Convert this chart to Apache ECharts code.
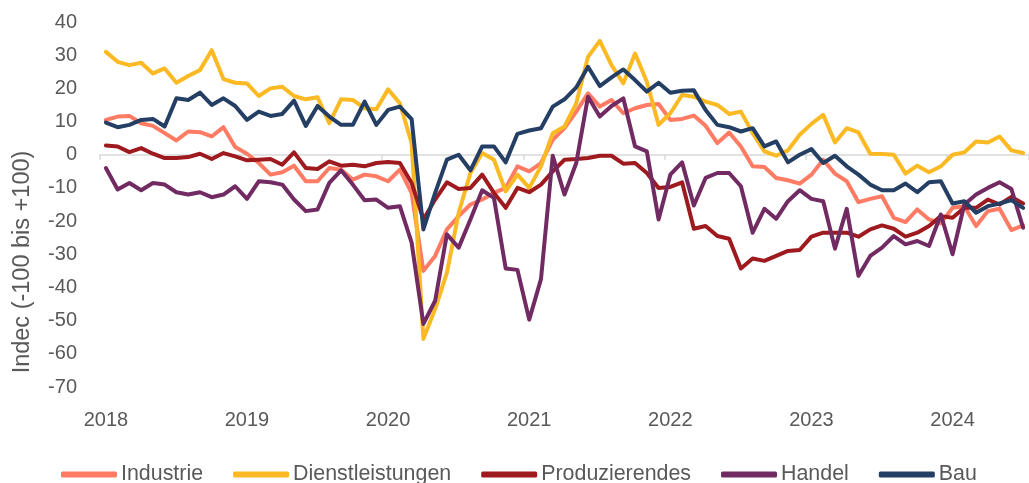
<!DOCTYPE html>
<html>
<head>
<meta charset="utf-8">
<script src="https://cdn.jsdelivr.net/npm/echarts@6/dist/echarts.min.js"></script>
<style>
  html, body { margin: 0; padding: 0; background: #ffffff; }
  #chart { width: 1029px; height: 483px; }
</style>
</head>
<body>
<div id="chart"></div>
<script>
// Monatswerte Jan 2018 - Jul 2024
const years = ['2018', '2019', '2020', '2021', '2022', '2023', '2024'];
const months = [];
years.forEach(function (y) {
  for (let m = 1; m <= 12; m++) {
    if (y === '2024' && m > 7) break;
    months.push(y + '-' + (m < 10 ? '0' + m : m));
  }
});

const industrie = [
  10.5, 11.5, 11.7, 9.5, 8.7, 6.5, 4.3, 7, 6.8, 5.5, 8.3, 2.3,
  0.3, -2.5, -6, -5.3, -3.3, -8, -8, -4, -4.5, -7.5, -6, -6.5,
  -8, -4.5, -11.5, -35, -30.5, -22.5, -18.5, -15, -13.5, -11.5, -10, -3.5,
  -5, -2.5, 4.5, 8, 13, 18.5, 14.5, 16.5, 12.5, 14, 15, 15.3,
  10.5, 10.8, 11.8, 8.7, 3.5, 6.7, 2.5, -3.5, -3.7, -7, -7.7, -8.7,
  -6, -1.5, -5.7, -8, -14.3, -13.3, -12.5, -19, -20.3, -16.5, -19.5, -20.7,
  -16, -15.5, -21.5, -17, -16.3, -22.7, -21.3
];
const dienstleistungen = [
  31, 28, 27, 27.7, 24.5, 26, 21.7, 23.7, 25.5, 31.5, 22.8, 21.7,
  21.5, 17.7, 20, 20.5, 17.7, 16.7, 17.3, 9.5, 16.7, 16.5, 14, 13.7,
  19.7, 15.5, 3.5, -55.5, -46.5, -35.5, -17.5, -5.5, 0.5, -1.5, -11, -6,
  -10, -3.5, 6.5, 8.5, 15.5, 29.5, 34.3, 27, 21.5, 30.5, 22, 9,
  12.5, 18, 17.5, 16, 15, 12.3, 13, 6.5, 1, -0.3, 1.3, 6,
  9.3, 12, 3.7, 8, 6.7, 0.3, 0.2, 0, -5.7, -3.3, -5.3, -3.5,
  0, 0.7, 4, 3.7, 5.5, 1.3, 0.5
];
const produzierendes = [
  2.8, 2.5, 0.8, 2, 0.3, -1, -1, -0.7, 0.3, -1.3, 0.5, -0.5,
  -1.7, -1.5, -1.3, -3, 0.7, -4, -4.3, -2, -3.3, -3, -3.5, -2.5,
  -2.2, -2.5, -8.5, -19.5, -13.5, -8.3, -10.3, -10, -6, -11.5, -16, -10,
  -11.3, -9, -5, -1.5, -1.3, -1, -0.3, -0.3, -2.7, -2.5, -5.5, -10,
  -9.7, -8.3, -22.3, -21.5, -24.5, -25.3, -34.3, -31.3, -32, -30.5, -29, -28.7,
  -24.7, -23.5, -23.5, -23.5, -24.7, -22.5, -21.3, -22.3, -24.7, -23.5, -21.5, -18.5,
  -19, -16, -16, -13.5, -15, -12.7, -14.7
];
const handel = [
  -4, -10.5, -8.5, -10.7, -8.5, -9, -11.3, -12, -11.3, -12.8, -12, -9.5,
  -13.3, -8, -8.3, -9, -13.5, -17, -16.5, -8.5, -4.7, -9, -13.7, -13.5,
  -16, -15.5, -26.5, -51, -44, -24, -28, -19.5, -10.7, -13, -34.3, -34.7,
  -49.7, -37.5, -0.3, -12, -2.5, 17.5, 11.5, 14.7, 17, 2.5, 1, -19.5,
  -6, -2.3, -15.3, -7, -5.5, -5.5, -9.5, -23.5, -16.3, -19.3, -14, -10.7,
  -13.3, -14, -28.3, -16.3, -36.5, -30.5, -28, -24.5, -27, -26, -27.5, -18,
  -30, -15, -12, -10, -8.3, -10.3, -22
];
const bau = [
  9.7, 8.3, 9, 10.5, 10.8, 8.5, 17, 16.5, 18.7, 15, 17, 14.7,
  10.5, 13, 11.7, 12.3, 16.3, 8.7, 14.7, 11.5, 9, 9, 16, 9,
  13.5, 14.5, 10.7, -22.5, -11.5, -1.5, 0, -4.7, 2.5, 2.5, -2.3, 6.3,
  7.3, 8, 14.5, 16.7, 20.3, 26.5, 20.7, 23.3, 25.7, 22.5, 19, 21.7,
  18.7, 19.3, 19.4, 13.5, 9, 8.3, 7, 8, 2.5, 4, -2.3, 0,
  1.7, -2.5, -0.3, -3.5, -6, -9, -10.7, -10.7, -8.7, -11.3, -8.3, -8,
  -14.7, -14, -17.5, -15.5, -14.7, -13.7, -16
];

const seriesNames = ['Industrie', 'Dienstleistungen', 'Produzierendes', 'Handel', 'Bau'];
const seriesData = [industrie, dienstleistungen, produzierendes, handel, bau];
const colors = ['#ff7b63', '#fbb923', '#9e1a1e', '#712b62', '#243f63'];

const textColor = '#595959';
const fontFamily = '"Liberation Sans", Arial, sans-serif';

const chart = echarts.init(document.getElementById('chart'));

const option = {
  animation: false,
  color: colors,
  grid: { left: 100, right: -3, top: 22, bottom: 96 },
  legend: {
    left: 56,
    top: 459,
    itemGap: 30,
    itemWidth: 56,
    itemHeight: 6,
    icon: 'roundRect',
    textStyle: { color: textColor, fontFamily: fontFamily, fontSize: 21.4, padding: [0, 0, 0, -1] },
    data: seriesNames
  },
  xAxis: [
    {
      type: 'category',
      data: months,
      boundaryGap: true,
      axisLine: { show: false },
      axisTick: { show: false },
      axisLabel: {
        color: textColor,
        fontFamily: fontFamily,
        fontSize: 20,
        margin: 23,
        interval: function (index) { return index % 12 === 0; },
        formatter: function (v) { return v.slice(0, 4); }
      },
      splitLine: { show: false }
    },
    {
      // Nulllinie mit Jahresstrichen
      type: 'category',
      data: months,
      boundaryGap: true,
      position: 'bottom',
      axisLine: { show: true, onZero: true, onZeroAxisIndex: 0, lineStyle: { color: '#d9d9d9', width: 1.5 } },
      axisTick: {
        show: true,
        length: 5,
        interval: function (index) { return index % 12 === 0; },
        lineStyle: { color: '#d9d9d9', width: 1.5 }
      },
      axisLabel: { show: false },
      splitLine: { show: false }
    }
  ],
  yAxis: {
    type: 'value',
    min: -70,
    max: 40,
    interval: 10,
    axisLine: { show: false },
    axisTick: { show: false },
    splitLine: { show: false },
    axisLabel: { color: textColor, fontFamily: fontFamily, fontSize: 20, margin: 23 }
  },
  graphic: [
    {
      type: 'text',
      x: 23,
      y: 262,
      rotation: Math.PI / 2,
      style: {
        text: 'Indec (-100 bis +100)',
        fill: textColor,
        font: '23.5px ' + fontFamily,
        align: 'center',
        verticalAlign: 'middle'
      }
    }
  ],
  series: seriesNames.map(function (name, i) {
    return {
      name: name,
      type: 'line',
      xAxisIndex: 0,
      data: seriesData[i],
      showSymbol: false,
      symbol: 'none',
      lineStyle: { width: 4, color: colors[i], cap: 'round', join: 'round' },
      itemStyle: { color: colors[i] }
    };
  })
};

chart.setOption(option);
</script>
</body>
</html>
